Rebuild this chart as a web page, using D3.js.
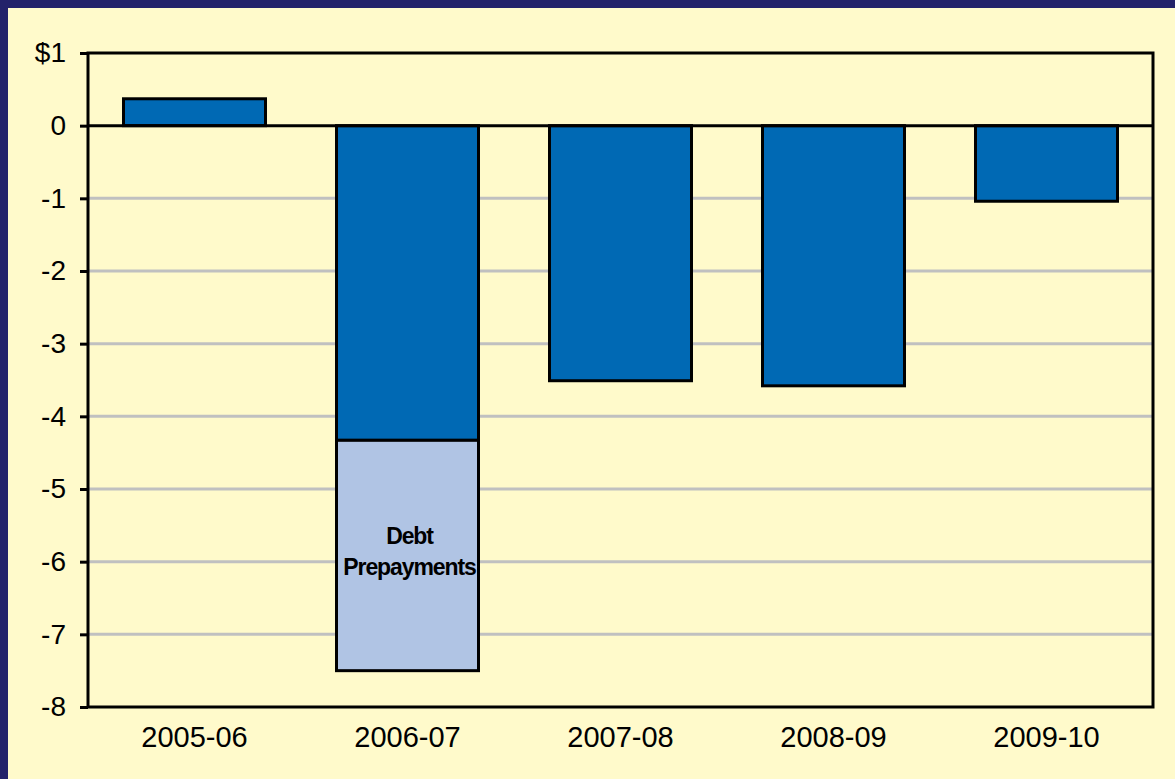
<!DOCTYPE html>
<html>
<head>
<meta charset="utf-8">
<script src="https://cdn.jsdelivr.net/npm/d3@7"></script>
<style>
  html, body { margin: 0; padding: 0; background: #23226a; }
  svg { display: block; }
  text { font-family: "Liberation Sans", Arial, sans-serif; fill: #000; }
</style>
</head>
<body>
<svg id="chart" width="1175" height="779"></svg>
<script>
// Fiscal years and balances (billions). Prepayment segment sits below the 2006-07 bar.
const years = ["2005-06", "2006-07", "2007-08", "2008-09", "2009-10"];
const balance = [0.37, -4.33, -3.51, -3.58, -1.04];
const prepayments = [0, -3.17, 0, 0, 0];
const yTicks = [1, 0, -1, -2, -3, -4, -5, -6, -7, -8];
const yTickLabels = ["$1", "0", "-1", "-2", "-3", "-4", "-5", "-6", "-7", "-8"];

const svg = d3.select("#chart");
const W = 1175, H = 779;
const m = { left: 88, top: 53, right: 1153, bottom: 707 };

// yellow panel inside the navy border
svg.append("rect").attr("x", 8).attr("y", 8).attr("width", W - 8).attr("height", H - 8)
    .attr("fill", "#fffacb");

const x = d3.scaleBand().domain(years).range([m.left, m.right])
    .paddingInner(1 / 3).paddingOuter(1 / 6);
const y = d3.scaleLinear().domain([-8, 1]).range([m.bottom, m.top]);

// gridlines (grey, except zero)
svg.append("g")
    .selectAll("line")
    .data(yTicks.filter(t => t < 0 && t > -8))
    .join("line")
    .attr("x1", m.left).attr("x2", m.right)
    .attr("y1", d => y(d)).attr("y2", d => y(d))
    .attr("stroke", "#c0c0c0").attr("stroke-width", 3);

// bars
const bars = svg.append("g");
bars.selectAll("rect.main")
    .data(years)
    .join("rect")
    .attr("class", "main")
    .attr("x", d => x(d))
    .attr("width", x.bandwidth())
    .attr("y", (d, i) => y(Math.max(0, balance[i])))
    .attr("height", (d, i) => Math.abs(y(balance[i]) - y(0)))
    .attr("fill", "#0069b4")
    .attr("stroke", "#000").attr("stroke-width", 3);

bars.selectAll("rect.prepay")
    .data(years.filter((d, i) => prepayments[i] !== 0))
    .join("rect")
    .attr("class", "prepay")
    .attr("x", d => x(d))
    .attr("width", x.bandwidth())
    .attr("y", d => y(balance[years.indexOf(d)]))
    .attr("height", d => {
        const i = years.indexOf(d);
        return y(balance[i] + prepayments[i]) - y(balance[i]);
    })
    .attr("fill", "#b0c4e4")
    .attr("stroke", "#000").attr("stroke-width", 3);

// segment label
years.forEach((d, i) => {
    if (!prepayments[i]) return;
    const cy = y(balance[i] + prepayments[i] / 2);
    const cx = x(d) + x.bandwidth() / 2 + 2;
    const t = svg.append("text")
        .attr("text-anchor", "middle")
        .attr("font-size", 23).attr("font-weight", "bold")
        .attr("letter-spacing", -1.1);
    t.append("tspan").attr("x", cx).attr("y", cy - 11).text("Debt");
    t.append("tspan").attr("x", cx).attr("y", cy + 20).text("Prepayments");
});

// zero line
svg.append("line")
    .attr("x1", m.left).attr("x2", m.right)
    .attr("y1", y(0)).attr("y2", y(0))
    .attr("stroke", "#000").attr("stroke-width", 3);

// plot frame
svg.append("rect")
    .attr("x", m.left).attr("y", m.top)
    .attr("width", m.right - m.left).attr("height", m.bottom - m.top)
    .attr("fill", "none").attr("stroke", "#000").attr("stroke-width", 3);

// y axis
const yAxis = svg.append("g")
    .attr("transform", `translate(${m.left},0)`)
    .call(d3.axisLeft(y).tickValues(yTicks).tickSize(8).tickPadding(14)
        .tickFormat((d, i) => yTickLabels[i]));
yAxis.select(".domain").remove();
yAxis.selectAll(".tick line").attr("stroke", "#000").attr("stroke-width", 3);
yAxis.selectAll(".tick text")
    .attr("font-size", 28).attr("fill", "#000")
    .attr("font-family", "Liberation Sans, Arial, sans-serif");

// x axis labels
const xAxis = svg.append("g")
    .attr("transform", `translate(0,${m.bottom})`)
    .call(d3.axisBottom(x).tickSize(0).tickPadding(19));
xAxis.select(".domain").remove();
xAxis.selectAll(".tick text")
    .attr("font-size", 29).attr("fill", "#000")
    .attr("font-family", "Liberation Sans, Arial, sans-serif");
</script>
</body>
</html>
